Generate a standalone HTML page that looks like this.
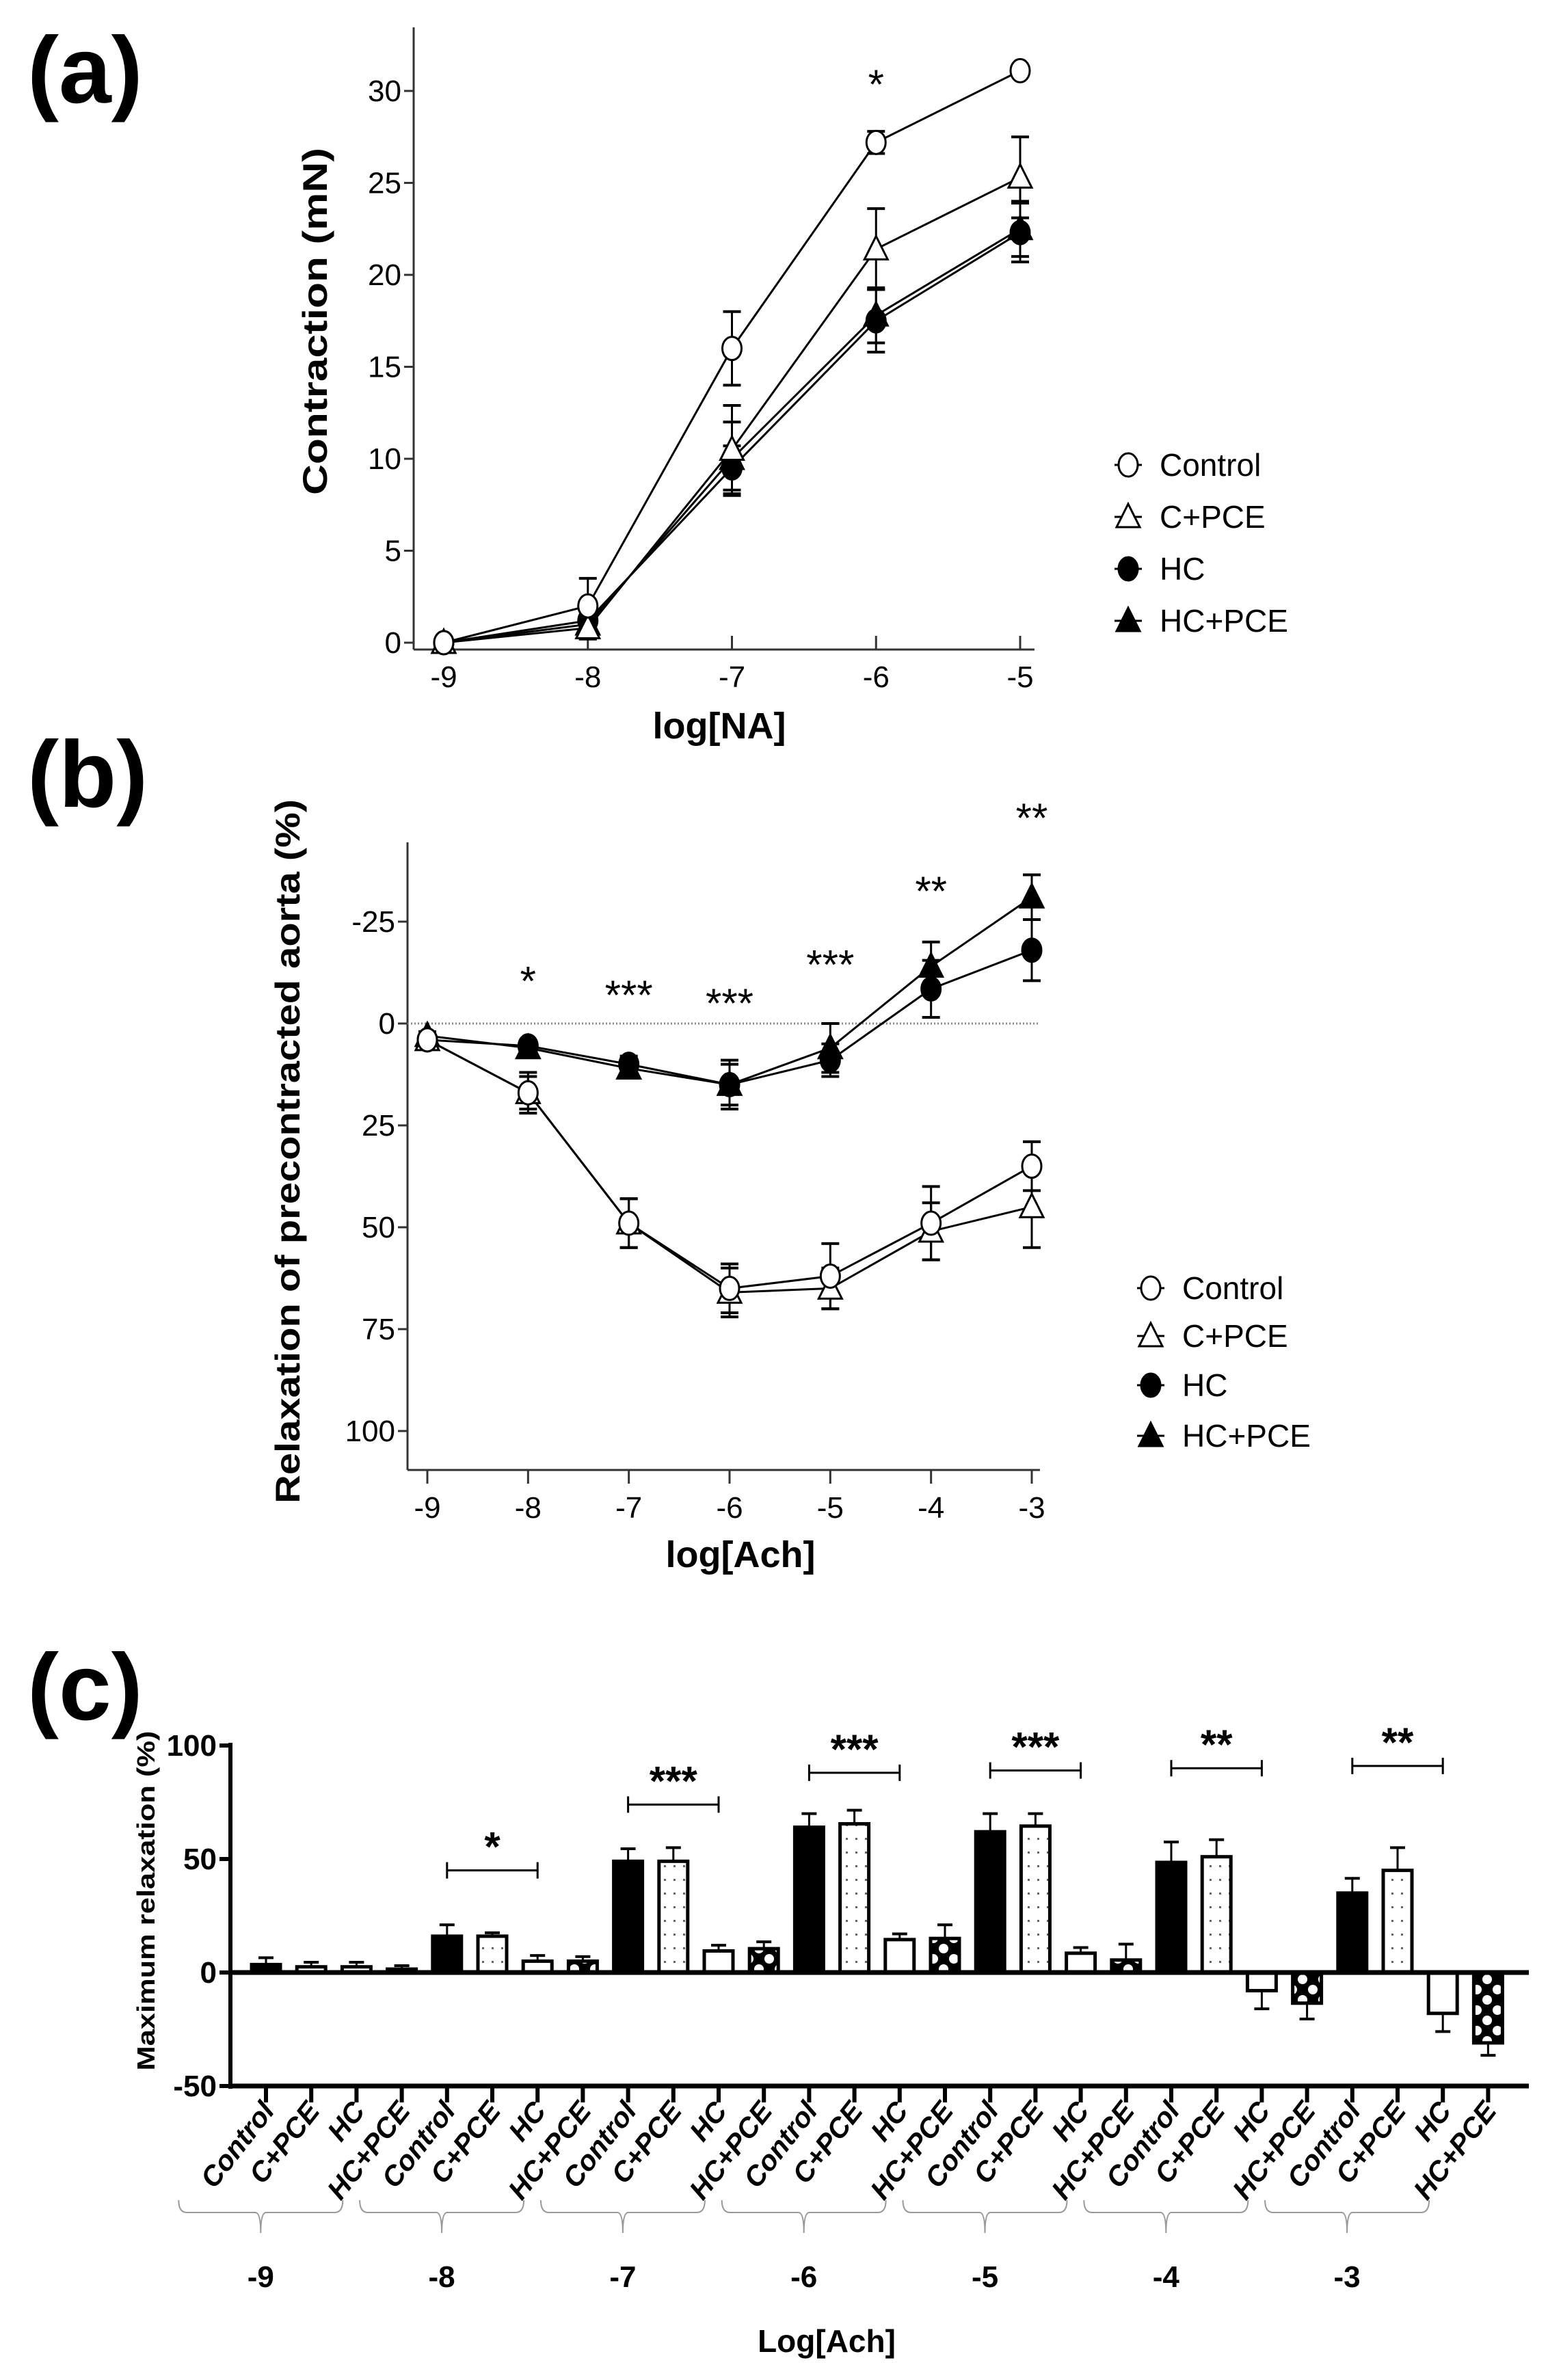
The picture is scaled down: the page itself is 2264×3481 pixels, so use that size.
<!DOCTYPE html>
<html><head><meta charset="utf-8"><style>
html,body{margin:0;padding:0;background:#fff;}
svg{display:block;}
text{font-family:"Liberation Sans",sans-serif;}
.n{font-family:"Liberation Sans Narrow","Liberation Sans",sans-serif;}
</style></head><body>
<svg id="fig" width="2264" height="3481" viewBox="0 0 2264 3481" xmlns="http://www.w3.org/2000/svg">
<text x="40" y="150" font-size="138" font-weight="bold">(a)</text>
<text x="40" y="1180" font-size="138" font-weight="bold">(b)</text>
<text x="40" y="2515" font-size="138" font-weight="bold">(c)</text>
<g id="pa"></g>
<g id="pb"></g>
<g id="pc"></g>
<defs>
<pattern id="dots" width="14" height="20" patternUnits="userSpaceOnUse"><rect width="14" height="20" fill="#fff"/><rect x="5" y="8" width="3" height="3" fill="#666"/></pattern>
<pattern id="hatch" width="30" height="30" patternUnits="userSpaceOnUse"><rect width="30" height="30" fill="#000"/><circle cx="15" cy="15" r="7" fill="#fff"/><circle cx="0" cy="0" r="7" fill="#fff"/><circle cx="30" cy="0" r="7" fill="#fff"/><circle cx="0" cy="30" r="7" fill="#fff"/><circle cx="30" cy="30" r="7" fill="#fff"/></pattern>
</defs>
</svg>
<script>
// ---------- Panel (a) data ----------
const aX = [-9,-8,-7,-6,-5];
const aControl = [0,2,16,27.2,31.1];
const aControlErr = [0,1.5,2,0.6,0];
const aCPCE = [0,0.8,10.5,21.4,25.3];
const aCPCEErr = [0,0.6,2.4,2.2,2.2];
const aHC = [0,1.2,9.5,17.5,22.3];
const aHCErr = [0,0.8,1.2,1.7,1.6];
const aHCPCE = [0,1.0,10.0,17.8,22.5];
const aHCPCEErr = [0,0.8,2.0,1.5,1.5];
const aYTicks = [0,5,10,15,20,25,30];
const aStars = [{x:-6,v:29.6,t:"*"}];

// ---------- Panel (b) data ----------
const bX = [-9,-8,-7,-6,-5,-4,-3];
const bControl = [4,17,49,65,62,49,35];
const bControlErr = [1,5,6,6,8,9,6];
const bCPCE = [4,17,49,66,65,51,45];
const bCPCEErr = [1,4,6,6,5,7,10];
const bHC = [4,5.5,10,15,9,-8.5,-18];
const bHCErr = [1,1,2,5,4,7,7.5];
const bHCPCE = [3,6,11,15,6,-14,-31];
const bHCPCEErr = [1,1,2,6,6,6,5.5];
const bYTicks = [-25,0,25,50,75,100];
const bStars = [{x:-8,v:-7,t:"*"},{x:-7,v:-3.5,t:"***"},{x:-6,v:-1.5,t:"***"},{x:-5,v:-11,t:"***"},{x:-4,v:-29,t:"**"},{x:-3,v:-47,t:"**"}];

// ---------- Panel (c) data ----------
const cGroups = ["-9","-8","-7","-6","-5","-4","-3"];
const cSeries = ["Control","C+PCE","HC","HC+PCE"];
const cControl = [3.5,16,49,64,62,48.5,35];
const cControlErr = [3,5,5.5,6,8,9,6.5];
const cCPCE = [2.5,16,49,65.5,64.5,51,45];
const cCPCEErr = [2,1.5,6,6,5.5,7.5,10];
const cHC = [2.5,5,9.5,14.5,8.5,-8,-18];
const cHCErr = [2,2.5,2.5,2.5,2.5,8,8];
const cHCPCE = [1.5,5,10.5,15,5.5,-13.5,-31];
const cHCPCEErr = [1.5,2,3,6,7,7,5.5];
const cYTicks = [100,50,0,-50];
const cStars = [{g:1,v:45,t:"*"},{g:2,v:74,t:"***"},{g:3,v:88,t:"***"},{g:4,v:89,t:"***"},{g:5,v:90,t:"**"},{g:6,v:91,t:"**"}];

const NS="http://www.w3.org/2000/svg";
function mk(parent,tag,attrs,txt){const e=document.createElementNS(NS,tag);for(const k in attrs)e.setAttribute(k,attrs[k]);if(txt!==undefined)e.textContent=txt;parent.appendChild(e);return e;}

function marker(g,type,x,y){
  let e;
  if(type==="oc"||type==="fc"){e=mk(g,"ellipse",{cx:x,cy:y,rx:14,ry:17,fill:type==="fc"?"#000":"#fff",stroke:"#000","stroke-width":3});}
  else{const s=17;e=mk(g,"polygon",{points:`${x},${y-s-2} ${x+s},${y+s-2} ${x-s},${y+s-2}`,fill:type==="ft"?"#000":"#fff",stroke:"#000","stroke-width":3});}
  return e;
}

function linePanel(id,cfg){
  const g=document.getElementById(id);
  const X=v=>cfg.x0+(v-cfg.xv0)*(cfg.x1-cfg.x0)/(cfg.xv1-cfg.xv0);
  const Y=v=>cfg.y0+(v-cfg.yv0)*(cfg.y1-cfg.y0)/(cfg.yv1-cfg.yv0);
  let e=mk(g,"line",{x1:cfg.axX,y1:cfg.axTop,x2:cfg.axX,y2:cfg.axY,stroke:"#333","stroke-width":3});
  
  e=mk(g,"line",{x1:cfg.axX,y1:cfg.axY,x2:cfg.axRight,y2:cfg.axY,stroke:"#333","stroke-width":3});
  
  cfg.yticks.forEach(t=>{
    mk(g,"line",{x1:cfg.axX-14,y1:Y(t),x2:cfg.axX,y2:Y(t),stroke:"#333","stroke-width":3});
    const tx=mk(g,"text",{x:cfg.axX-18,y:Y(t)+15,"font-size":44,"text-anchor":"end",class:"n"},String(t));
    
  });
  cfg.xs.forEach(t=>{
    mk(g,"line",{x1:X(t),y1:cfg.axY,x2:X(t),y2:cfg.axY+cfg.tickDir*20,stroke:"#333","stroke-width":3});
    const tx=mk(g,"text",{x:X(t),y:cfg.xLabY,"font-size":44,"text-anchor":"middle",class:"n"},String(t));
    
  });
  if(cfg.zeroLine){e=mk(g,"line",{x1:cfg.axX,y1:Y(0),x2:cfg.axRight,y2:Y(0),stroke:"#888","stroke-width":3,"stroke-dasharray":"2,3"});
    }
  const series=cfg.series;
  series.forEach(s=>{
    const pts=cfg.xs.map((x,i)=>X(x)+","+Y(s.v[i])).join(" ");
    const l=mk(g,"polyline",{points:pts,fill:"none",stroke:"#000","stroke-width":3});
    
  });
  series.forEach(s=>{
    cfg.xs.forEach((x,i)=>{
      if(!s.e[i])return;
      const cx=X(x),a=Y(s.v[i]-s.e[i]),b=Y(s.v[i]+s.e[i]);
      mk(g,"line",{x1:cx,y1:a,x2:cx,y2:b,stroke:"#000","stroke-width":3});
      mk(g,"line",{x1:cx-13,y1:a,x2:cx+13,y2:a,stroke:"#000","stroke-width":4});
      mk(g,"line",{x1:cx-13,y1:b,x2:cx+13,y2:b,stroke:"#000","stroke-width":4});
    });
  });
  series.slice().reverse().forEach(s=>{
    cfg.xs.forEach((x,i)=>{
      const m=marker(g,s.m,X(x),Y(s.v[i]));
      
    });
  });
  cfg.stars.forEach(st=>{
    const t=mk(g,"text",{x:X(st.x),y:Y(st.v),"font-size":60,"text-anchor":"middle"},st.t);
    
  });
  let t=mk(g,"text",{x:cfg.ytX,y:cfg.ytY,"font-size":50,"font-weight":"bold","text-anchor":"middle",transform:`rotate(-90 ${cfg.ytX} ${cfg.ytY})`,textLength:cfg.ytLen,lengthAdjust:"spacingAndGlyphs"},cfg.ytitle);
  
  t=mk(g,"text",{x:cfg.xtX,y:cfg.xtY,"font-size":54,"font-weight":"bold","text-anchor":"middle",class:"n"},cfg.xtitle);
  
  series.forEach((s,i)=>{
    const ly=cfg.legY[i];
    const lg=mk(g,"g",{});
    
    mk(lg,"line",{x1:cfg.legX-20,y1:ly,x2:cfg.legX+20,y2:ly,stroke:"#000","stroke-width":3});
    marker(lg,s.m,cfg.legX,ly);
    mk(lg,"text",{x:cfg.legX+46,y:ly+16,"font-size":46,class:"n"},s.label);
  });
}

linePanel("pa",{x0:649,x1:1492,xv0:-9,xv1:-5,y0:940,y1:133,yv0:0,yv1:30,
  axX:605,axTop:40,axY:950,axRight:1513,tickDir:-1,xLabY:1005,xs:aX,yticks:aYTicks,
  series:[{name:"control",label:"Control",m:"oc",v:aControl,e:aControlErr},
          {name:"c-pce",label:"C+PCE",m:"ot",v:aCPCE,e:aCPCEErr},
          {name:"hc",label:"HC",m:"fc",v:aHC,e:aHCErr},
          {name:"hc-pce",label:"HC+PCE",m:"ft",v:aHCPCE,e:aHCPCEErr}],
  stars:aStars,ytitle:"Contraction (mN)",ytX:478,ytY:470,ytLen:508,xtitle:"log[NA]",xtX:1052,xtY:1080,
  legX:1650,legY:[680,756,832,908]});

linePanel("pb",{x0:625,x1:1509,xv0:-9,xv1:-3,y0:1497,y1:1795,yv0:0,yv1:50,
  axX:596,axTop:1232,axY:2150,axRight:1521,tickDir:1,xLabY:2220,xs:bX,yticks:bYTicks,zeroLine:true,
  series:[{name:"control",label:"Control",m:"oc",v:bControl,e:bControlErr},
          {name:"c-pce",label:"C+PCE",m:"ot",v:bCPCE,e:bCPCEErr},
          {name:"hc",label:"HC",m:"fc",v:bHC,e:bHCErr},
          {name:"hc-pce",label:"HC+PCE",m:"ft",v:bHCPCE,e:bHCPCEErr}],
  stars:bStars,ytitle:"Relaxation of precontracted aorta (%)",ytX:438,ytY:1684,ytLen:1030,xtitle:"log[Ach]",xtX:1083,xtY:2292,
  legX:1683,legY:[1884,1954,2026,2100]});

// ---------- Panel (c) ----------
(function(){
  const g=document.getElementById("pc");
  const axX=337, x0=389, step=66.2, bw=42;
  const Y=v=>2885-v*3.32;
  const data=[cControl,cCPCE,cHC,cHCPCE], errs=[cControlErr,cCPCEErr,cHCErr,cHCPCEErr];
  const fills=["#000","url(#dots)","#fff","url(#hatch)"];
  const names=["control","c-pce","hc","hc-pce"];
  let e=mk(g,"line",{x1:axX,y1:Y(100)-4,x2:axX,y2:Y(-50)+4,stroke:"#000","stroke-width":6});
  
  cYTicks.forEach(t=>{
    mk(g,"line",{x1:axX-16,y1:Y(t),x2:axX,y2:Y(t),stroke:"#000","stroke-width":6});
    const tx=mk(g,"text",{x:axX-20,y:Y(t)+15,"font-size":44,"font-weight":"bold","text-anchor":"end",class:"n"},String(t));
    
  });
  e=mk(g,"line",{x1:axX,y1:Y(-50),x2:2236,y2:Y(-50),stroke:"#000","stroke-width":7});
  
  cGroups.forEach((gr,gi)=>{
    cSeries.forEach((s,si)=>{
      const idx=gi*4+si, cx=x0+idx*step;
      const v=data[si][gi], er=errs[si][gi];
      const top=Math.min(Y(v),Y(0)), h=Math.abs(Y(v)-Y(0));
      const r=mk(g,"rect",{x:cx-bw/2,y:top,width:bw,height:Math.max(h,1),fill:fills[si],stroke:"#000","stroke-width":5});
      
      const ye=Y(v+(v>=0?er:-er));
      mk(g,"line",{x1:cx,y1:Y(v),x2:cx,y2:ye,stroke:"#000","stroke-width":3});
      mk(g,"line",{x1:cx-11,y1:ye,x2:cx+11,y2:ye,stroke:"#000","stroke-width":4});
      mk(g,"line",{x1:cx,y1:Y(-50),x2:cx,y2:Y(-50)+24,stroke:"#000","stroke-width":6});
      const ly=3088, lx=cx+14;
      const t=mk(g,"text",{x:lx,y:ly,"font-size":41,"font-weight":"bold","font-style":"italic","text-anchor":"end",transform:`rotate(-52 ${lx} ${ly})`},s);
      
    });
    const gc=x0+(gi*4+1.5)*step-107;
    const bl=gc-120, br=gc+120;
    const b=mk(g,"path",{d:`M${bl},3218 Q${bl},3236 ${bl+12},3236 L${gc-8},3236 Q${gc},3236 ${gc},3266 Q${gc},3236 ${gc+8},3236 L${br-12},3236 Q${br},3236 ${br},3218`,fill:"none",stroke:"#999","stroke-width":2});
    
    const t=mk(g,"text",{x:gc,y:3345,"font-size":44,"font-weight":"bold","text-anchor":"middle",class:"n"},gr);
    
  });
  e=mk(g,"line",{x1:axX,y1:Y(0),x2:2236,y2:Y(0),stroke:"#000","stroke-width":7});
  
  cStars.forEach(st=>{
    const xa=x0+(st.g*4)*step, xb=x0+(st.g*4+2)*step, yy=Y(st.v);
    const br=mk(g,"g",{});
    
    mk(br,"line",{x1:xa,y1:yy,x2:xb,y2:yy,stroke:"#000","stroke-width":3});
    mk(br,"line",{x1:xa,y1:yy-12,x2:xa,y2:yy+12,stroke:"#000","stroke-width":3});
    mk(br,"line",{x1:xb,y1:yy-12,x2:xb,y2:yy+12,stroke:"#000","stroke-width":3});
    mk(br,"text",{x:(xa+xb)/2,y:yy-14,"font-size":60,"font-weight":"bold","text-anchor":"middle"},st.t);
  });
  let t=mk(g,"text",{x:226,y:2780,"font-size":36,"font-weight":"bold","text-anchor":"middle",transform:"rotate(-90 226 2780)",textLength:497,lengthAdjust:"spacingAndGlyphs"},"Maximum relaxation (%)");
  
  t=mk(g,"text",{x:1209,y:3440,"font-size":46,"font-weight":"bold","text-anchor":"middle",class:"n"},"Log[Ach]");
  
})();
</script>
</body></html>
